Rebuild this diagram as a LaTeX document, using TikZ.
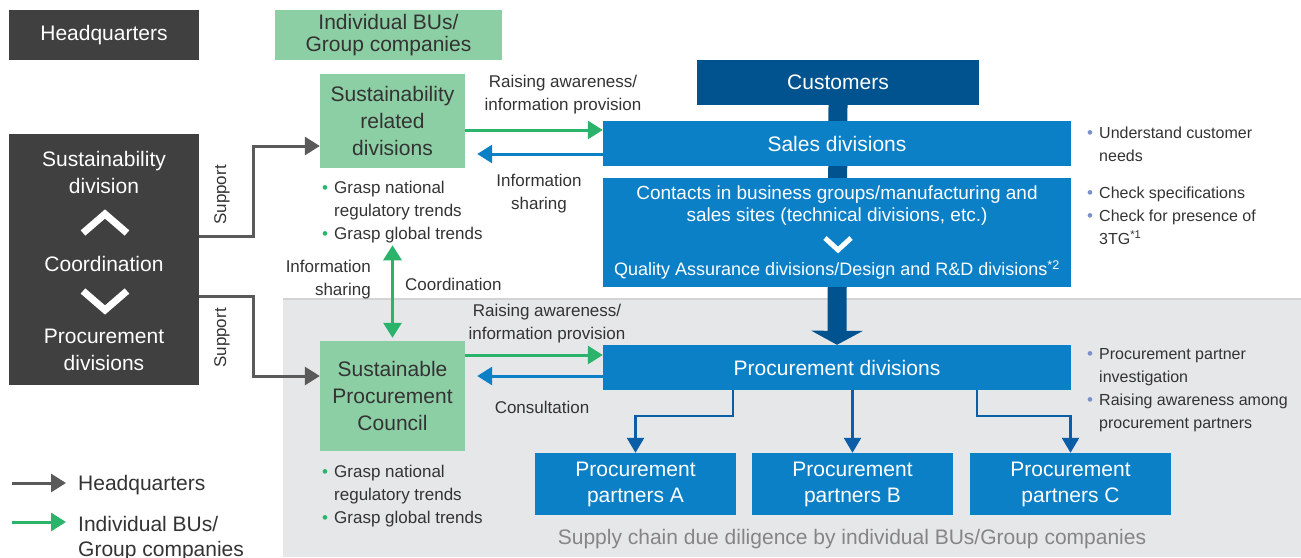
\documentclass[tikz,border=0pt]{standalone}
\usepackage{fontspec}
\setmainfont{Liberation Sans}
\usetikzlibrary{arrows.meta}

\definecolor{hqgray}{HTML}{404040}
\definecolor{bugreen}{HTML}{8DCFA5}
\definecolor{arrgreen}{HTML}{2BB36B}
\definecolor{boxblue}{HTML}{0B80C7}
\definecolor{custblue}{HTML}{00538E}
\definecolor{linkblue}{HTML}{0A5EA8}
\definecolor{arrgray}{HTML}{5A5A5A}
\definecolor{scgray}{HTML}{E6E7E9}
\definecolor{scline}{HTML}{D2D3D5}
\definecolor{sctext}{HTML}{858585}
\definecolor{txt}{HTML}{333333}
\definecolor{bulblue}{HTML}{7B8FC9}

\newcommand{\fs}[2]{\fontsize{#1}{#2}\selectfont}
\newcommand{\gdot}{\makebox[12pt][l]{\textcolor{arrgreen}{\fs{17}{17}\textbullet}}}
\newcommand{\bdot}{\makebox[12pt][l]{\textcolor{bulblue}{\fs{17}{17}\textbullet}}}
\newcommand{\hang}{\hspace*{12pt}}

\begin{document}
\begin{tikzpicture}[x=1pt,y=-1pt,
  box/.style={inner sep=0pt, align=center, font=\fs{21}{27}},
  hqbox/.style={box, fill=hqgray, text=white},
  bubox/.style={box, fill=bugreen, text=txt},
  bluebox/.style={box, fill=boxblue, text=white},
  lbl/.style={inner sep=0pt, align=center, text=txt, font=\fs{17}{23}},
  bullets/.style={inner sep=0pt, align=left, text=txt, font=\fs{17}{23}, anchor=north west},
  hqarr/.style={draw=arrgray, line width=3pt, -{Triangle[length=15pt,width=18pt]}},
  buarr/.style={draw=arrgreen, line width=3pt, -{Triangle[length=15pt,width=18pt]}},
  infoarr/.style={draw=boxblue, line width=3pt, -{Triangle[length=15pt,width=18pt]}},
  partarr/.style={draw=linkblue, line width=2.5pt, -{Triangle[length=15pt,width=17pt]}},
  chev/.style={draw=white, line width=7pt}]
\useasboundingbox (0,0) rectangle (1301,557);

% supply chain area
\fill[scgray] (283,298) rectangle (1301,557);
\draw[scline, line width=2pt] (283,299) -- (1301,299);
\node[box, text=sctext] (sc) at (852,539) {Supply chain due diligence by individual BUs/Group companies};

% headers
\node[hqbox, minimum width=190pt, minimum height=50pt] (hq) at (104,35) {Headquarters};
\node[bubox, minimum width=227pt, minimum height=50pt, font=\fs{21}{22}] (bu) at (388.5,35) {Individual BUs/\\Group companies};

% headquarters divisions
\node[hqbox, minimum width=190pt, minimum height=251pt] (sd) at (104,259.5) {};
\node[box, text=white] (sdtop) at (104,172.5) {Sustainability\\division};
\node[box, text=white] (coord) at (104,264) {Coordination};
\node[box, text=white] (pdiv) at (104,350) {Procurement\\divisions};
\draw[chev] (83,233) -- (105,214) -- (127,233);
\draw[chev] (83,291) -- (105,310) -- (127,291);

% BU side
\node[bubox, minimum width=145pt, minimum height=94pt] (sr) at (392.5,121) {Sustainability\\related\\divisions};
\node[bubox, minimum width=145pt, minimum height=110pt] (council) at (392.5,396) {Sustainable\\Procurement\\Council};
\node[bullets] (bulsr) at (322,181) {\gdot Grasp national\\\hang regulatory trends\\\gdot Grasp global trends};
\node[bullets] (bulpc) at (322,465) {\gdot Grasp national\\\hang regulatory trends\\\gdot Grasp global trends};

% customer chain
\node[box, fill=custblue, text=white, minimum width=282pt, minimum height=45pt] (cust) at (838,82.5) {Customers};
\node[bluebox, minimum width=468pt, minimum height=45pt] (procdiv) at (837,367.5) {Procurement divisions};
\draw[custblue, line width=19pt, -{Triangle[length=14pt,width=51pt]}] (cust.south) -- (procdiv.north);
\node[bluebox, minimum width=468pt, minimum height=45pt] (sales) at (837,143.5) {Sales divisions};
\node[bluebox, minimum width=468pt, minimum height=109pt] (contacts) at (837,232.5) {};
\node[box, text=white, font=\fs{19}{22}] (ctext) at (837,206) {Contacts in business groups/manufacturing and\\sales sites (technical divisions, etc.)};
\node[box, text=white, font=\fs{18}{20}] (qa) at (837,270) {Quality Assurance divisions/Design and R\&D divisions\textsuperscript{*2}};
\draw[chev, line width=5pt] (825,238) -- (838,250) -- (851,238);

% partners
\node[bluebox, minimum width=201pt, minimum height=62pt, font=\fs{21}{26}] (pa) at (635.5,484) {Procurement\\partners A};
\node[bluebox, minimum width=201pt, minimum height=62pt, font=\fs{21}{26}] (pb) at (852.5,484) {Procurement\\partners B};
\node[bluebox, minimum width=201pt, minimum height=62pt, font=\fs{21}{26}] (pc) at (1070.5,484) {Procurement\\partners C};
\draw[partarr] ([xshift=-104pt]procdiv.south) -- ++(0,26) -| (pa.north);
\draw[partarr] (procdiv.south -| pb.north) -- (pb.north);
\draw[partarr] ([xshift=140pt]procdiv.south) -- ++(0,26) -| (pc.north);

% right notes
\node[bullets, font=\fs{16}{23}] (bulsales) at (1087,127) {\bdot Understand customer\\\hang needs};
\node[bullets, font=\fs{16}{23}] (bulcont) at (1087,187) {\bdot Check specifications\\\bdot Check for presence of\\\hang 3TG\textsuperscript{*1}};
\node[bullets, font=\fs{16}{23}] (bulproc) at (1087,348) {\bdot Procurement partner\\\hang investigation\\\bdot Raising awareness among\\\hang procurement partners};

% support
\draw[hqarr] ([yshift=23.5pt]sd.east) -- ++(54,0) |- ([yshift=-25pt]sr.west);
\draw[hqarr] ([yshift=-36.5pt]sd.east) -- ++(54,0) |- ([yshift=20pt]council.west);
\node[lbl, rotate=90] (sup1) at (222,195) {Support};
\node[lbl, rotate=90] (sup2) at (222,338) {Support};

% information flows
\draw[buarr] ([yshift=-9pt]sr.east) -- ([yshift=-9pt]sr.east -| sales.west);
\draw[infoarr, shorten >=12pt] ([yshift=-10.5pt]sales.west) -- ([yshift=-10.5pt]sales.west -| sr.east);
\draw[buarr] ([yshift=12.5pt]procdiv.west -| council.east) -- ([yshift=12.5pt]procdiv.west);
\draw[infoarr, shorten >=12pt] ([yshift=-8.5pt]procdiv.west) -- ([yshift=-8.5pt]procdiv.west -| council.east);
\draw[buarr, {Triangle[length=15pt,width=18pt]}-{Triangle[length=15pt,width=18pt]}, shorten <=2pt, shorten >=3pt] (sr.south |- bulsr.south) -- (council.north);
\node[lbl] (raise1) at (563,94.5) {Raising awareness/\\information provision};
\node[lbl] (share1) at (539,194) {Information\\sharing};
\node[lbl, anchor=east, align=right] (share2) at (371,279.5) {Information\\sharing};
\node[lbl, anchor=west] (coordlbl) at (405,284) {Coordination};
\node[lbl] (raise2) at (547,323.5) {Raising awareness/\\information provision};
\node[lbl] (consult) at (542,407) {Consultation};

% legend
\coordinate (lgq) at (12,483);
\coordinate (lgb) at (12,522);
\node[lbl, anchor=west, font=\fs{21}{25}] (lghq) at (78,485) {Headquarters};
\node[lbl, anchor=north west, align=left, font=\fs{21}{25}] (lgbu) at (78,516) {Individual BUs/\\Group companies};
\draw[hqarr, shorten >=12pt] (lgq) -- (lgq -| lghq.west);
\draw[buarr, shorten >=12pt] (lgb) -- (lgb -| lgbu.west);
\end{tikzpicture}
\end{document}
